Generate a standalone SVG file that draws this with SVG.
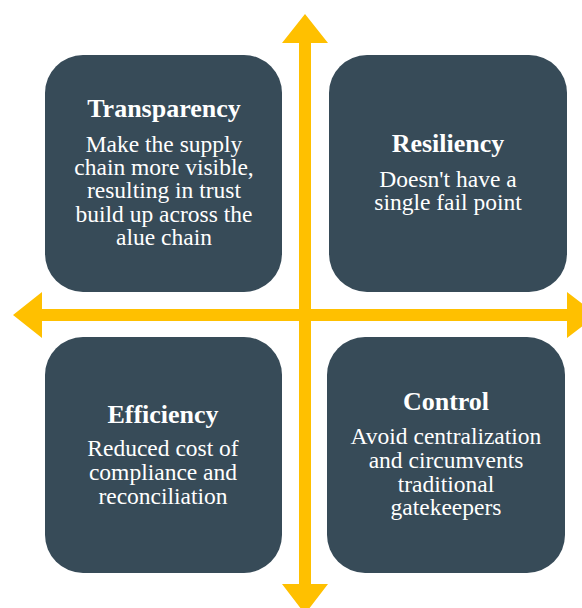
<svg xmlns="http://www.w3.org/2000/svg" width="582" height="608" viewBox="0 0 582 608">
  <style>
    .box { fill: #374B58; }
    .axis { fill: #FFC000; }
    .title { font-family: "Liberation Serif", "Times New Roman", serif; font-weight: bold; font-size: 26px; fill: #FFFFFF; text-anchor: middle; }
    .body { font-family: "Liberation Serif", "Times New Roman", serif; font-size: 23.5px; fill: #FFFFFF; text-anchor: middle; }
  </style>
  <rect width="582" height="608" fill="#FFFFFF"/>

  <!-- crossing axes -->
  <g id="axes" class="axis">
    <polygon points="305,14 328,43 311,43 311,584 328,584 305,614 282,584 299,584 299,43 282,43"/>
    <polygon points="13,315 42,292 42,309 567,309 567,292 597,315 567,338 567,321 42,321 42,338"/>
  </g>

  <g id="transparency">
    <rect class="box" x="45" y="55" width="237" height="237" rx="38"/>
    <text class="title" x="164" y="117">Transparency</text>
    <text class="body" x="164" y="152">Make the supply</text>
    <text class="body" x="164" y="175">chain more visible,</text>
    <text class="body" x="164" y="198">resulting in trust</text>
    <text class="body" x="164" y="221.5">build up across the</text>
    <text class="body" x="164" y="244.5">alue chain</text>
  </g>

  <g id="resiliency">
    <rect class="box" x="329" y="55" width="238" height="237" rx="38"/>
    <text class="title" x="448" y="152">Resiliency</text>
    <text class="body" x="448" y="187">Doesn't have a</text>
    <text class="body" x="448" y="210">single fail point</text>
  </g>

  <g id="efficiency">
    <rect class="box" x="45" y="337" width="237" height="236" rx="38"/>
    <text class="title" x="163" y="423">Efficiency</text>
    <text class="body" x="163" y="456">Reduced cost of</text>
    <text class="body" x="163" y="480">compliance and</text>
    <text class="body" x="163" y="504">reconciliation</text>
  </g>

  <g id="control">
    <rect class="box" x="327" y="337" width="238" height="236" rx="38"/>
    <text class="title" x="446" y="410">Control</text>
    <text class="body" x="446" y="444">Avoid centralization</text>
    <text class="body" x="446" y="468">and circumvents</text>
    <text class="body" x="446" y="492">traditional</text>
    <text class="body" x="446" y="515">gatekeepers</text>
  </g>
</svg>
